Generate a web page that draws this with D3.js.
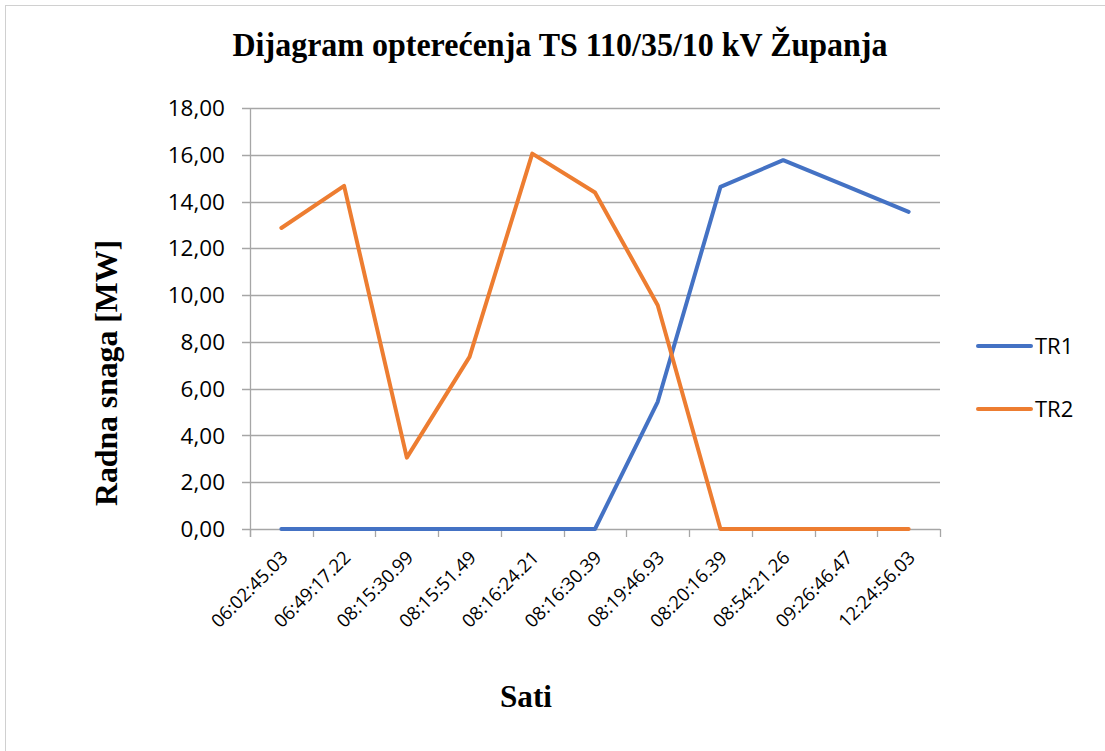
<!DOCTYPE html>
<html>
<head>
<meta charset="utf-8">
<script src="https://cdn.jsdelivr.net/npm/d3@7"></script>
<style>
  body { margin: 0; background: #fff; }
  .tick_label { font-family: "Open Sans", sans-serif; fill: #000; }
  .serif_bold { font-family: "Liberation Serif", "Times New Roman", serif; font-weight: bold; fill: #000; }
</style>
</head>
<body>
<div id="chart"></div>
<script>
var categories = ["06:02:45.03", "06:49:17.22", "08:15:30.99", "08:15:51.49", "08:16:24.21",
                  "08:16:30.39", "08:19:46.93", "08:20:16.39", "08:54:21.26", "09:26:46.47", "12:24:56.03"];
var tr1_values = [0, 0, 0, 0, 0, 0, 5.44, 14.63, 15.77, 14.67, 13.56];
var tr2_values = [12.87, 14.67, 3.05, 7.36, 16.05, 14.39, 9.57, 0, 0, 0, 0];
var y_ticks = [0, 2, 4, 6, 8, 10, 12, 14, 16, 18];
var series_names = ["TR1", "TR2"];
var series_colors = ["#4472C4", "#ED7D31"];

var width = 1105, height = 751;
var plot = {left: 250, right: 940, top: 108, bottom: 529};

var svg = d3.select("#chart").append("svg")
            .attr("width", width)
            .attr("height", height);

// outer chart border
svg.append("rect")
   .attr("x", 5.5).attr("y", 5.5)
   .attr("width", 1110).attr("height", 760)
   .attr("fill", "#fff")
   .attr("stroke", "#d0d0d0");

var x = d3.scaleBand().domain(categories).range([plot.left, plot.right]);
var y = d3.scaleLinear().domain([0, 18]).range([plot.bottom, plot.top]);

// gridlines
svg.append("g").selectAll("line")
   .data(y_ticks)
   .enter().append("line")
   .attr("x1", plot.left - 8).attr("x2", plot.right)
   .attr("y1", function(d) { return Math.round(y(d)) + 0.5; })
   .attr("y2", function(d) { return Math.round(y(d)) + 0.5; })
   .attr("stroke", "#a6a6a6")
   .attr("stroke-width", 1.3);

// y axis line
svg.append("line")
   .attr("x1", plot.left + 0.5).attr("x2", plot.left + 0.5)
   .attr("y1", plot.top).attr("y2", plot.bottom + 8)
   .attr("stroke", "#a6a6a6").attr("stroke-width", 1.3);

// x tick marks on band edges
var edges = categories.map(function(c) { return x(c); }).concat([plot.right]);
svg.append("g").selectAll("line")
   .data(edges)
   .enter().append("line")
   .attr("x1", function(d) { return Math.round(d) + 0.5; })
   .attr("x2", function(d) { return Math.round(d) + 0.5; })
   .attr("y1", plot.bottom).attr("y2", plot.bottom + 8)
   .attr("stroke", "#a6a6a6").attr("stroke-width", 1.3);

// y tick labels
svg.append("g").selectAll("text")
   .data(y_ticks)
   .enter().append("text")
   .attr("class", "tick_label")
   .attr("x", 225)
   .attr("y", function(d) { return y(d); })
   .attr("dy", "0.36em")
   .attr("text-anchor", "end")
   .style("font-size", "22.5px")
   .text(function(d) { return d.toFixed(2).replace(".", ","); });

// x tick labels, rotated
svg.append("g").selectAll("text")
   .data(categories)
   .enter().append("text")
   .attr("class", "tick_label")
   .attr("transform", function(d) {
      return "translate(" + (x(d) + x.bandwidth() / 2 + 3) + "," + (plot.bottom + 25) + ") rotate(-45)";
   })
   .attr("text-anchor", "end")
   .attr("dy", "0.36em")
   .style("font-size", "18.5px")
   .text(function(d) { return d; });

// series lines
var all_series = [tr1_values, tr2_values];
var line = d3.line()
             .x(function(d, i) { return x(categories[i]) + x.bandwidth() / 2; })
             .y(function(d) { return y(d); });

all_series.forEach(function(values, k) {
  svg.append("path")
     .datum(values)
     .attr("d", line)
     .attr("fill", "none")
     .attr("stroke", series_colors[k])
     .attr("stroke-width", 4)
     .attr("stroke-linecap", "round")
     .attr("stroke-linejoin", "round");
});

// title and axis titles
svg.append("text")
   .attr("class", "serif_bold")
   .attr("x", 560).attr("y", 56)
   .attr("text-anchor", "middle")
   .attr("textLength", 655)
   .attr("lengthAdjust", "spacingAndGlyphs")
   .style("font-size", "34px")
   .text("Dijagram opterećenja TS 110/35/10 kV Županja");

svg.append("text")
   .attr("class", "serif_bold")
   .attr("transform", "translate(117,373) rotate(-90)")
   .attr("text-anchor", "middle")
   .attr("textLength", 266)
   .attr("lengthAdjust", "spacingAndGlyphs")
   .style("font-size", "32px")
   .text("Radna snaga [MW]");

svg.append("text")
   .attr("class", "serif_bold")
   .attr("x", 526).attr("y", 707)
   .attr("text-anchor", "middle")
   .attr("textLength", 52)
   .attr("lengthAdjust", "spacingAndGlyphs")
   .style("font-size", "32px")
   .text("Sati");

// legend
var legend = svg.append("g").selectAll("g")
                .data(series_names)
                .enter().append("g")
                .attr("transform", function(d, i) { return "translate(978," + (346 + i * 63) + ")"; });
legend.append("line")
      .attr("x1", 0).attr("x2", 53)
      .attr("stroke", function(d, i) { return series_colors[i]; })
      .attr("stroke-width", 4)
      .attr("stroke-linecap", "round");
legend.append("text")
      .attr("class", "tick_label")
      .attr("x", 57)
      .attr("dy", "0.36em")
      .style("font-size", "22px")
      .text(function(d) { return d; });
</script>
</body>
</html>
